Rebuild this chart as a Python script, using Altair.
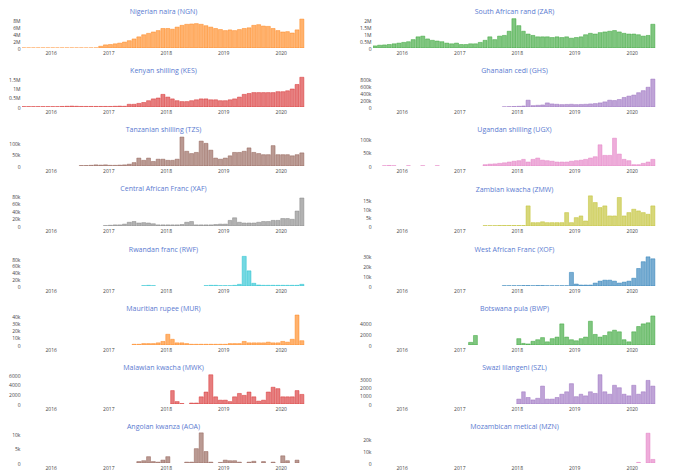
import altair as alt
import pandas as pd

# Monthly periods, Jul 2015 .. May 2020 (59 months)
months = pd.date_range("2015-07-01", "2020-05-01", freq="MS")
month_ends = months + pd.offsets.MonthBegin(1)

NGN = [0.02, 0.02, 0.02, 0.02, 0.02, 0.02,
       0.02, 0.02, 0.02, 0.02, 0.02, 0.02, 0.02, 0.02, 0.02, 0.03, 0.5, 0.9,
       1.0, 1.2, 1.4, 1.7, 2.1, 2.6, 3.2, 3.8, 4.2, 4.6, 5.0, 5.6,
       5.6, 5.4, 6.0, 6.5, 6.8, 6.9, 7.0, 6.8, 6.4, 6.0, 5.6, 5.3,
       5.0, 5.2, 5.0, 5.3, 5.6, 5.8, 6.5, 6.7, 6.3, 6.2, 5.6, 5.0,
       4.6, 4.7, 4.3, 5.2, 8.3]
ZAR = [0.15, 0.2, 0.22, 0.25, 0.3, 0.35,
       0.4, 0.45, 0.6, 0.8, 0.85, 0.65, 0.55, 0.5, 0.45, 0.35, 0.3, 0.35,
       0.25, 0.25, 0.3, 0.3, 0.4, 0.55, 0.8, 0.6, 0.85, 0.9, 1.2, 2.1,
       1.6, 1.2, 1.0, 0.9, 0.8, 0.8, 0.8, 0.75, 0.8, 0.75, 0.8, 0.7,
       0.75, 0.8, 0.95, 1.05, 1.0, 1.1, 1.15, 1.2, 1.25, 1.15, 1.05, 1.0,
       1.0, 0.95, 0.85, 0.9, 1.7]
KES = [0.02, 0.02, 0.02, 0.02, 0.02, 0.02,
       0.02, 0.02, 0.03, 0.04, 0.05, 0.04, 0.03, 0.03, 0.03, 0.03, 0.03, 0.03,
       0.03, 0.04, 0.05, 0.04, 0.15, 0.15, 0.2, 0.25, 0.35, 0.45, 0.5, 0.7,
       0.55, 0.45, 0.35, 0.3, 0.3, 0.35, 0.4, 0.45, 0.45, 0.4, 0.4, 0.35,
       0.35, 0.4, 0.45, 0.55, 0.7, 0.75, 0.8, 0.8, 0.8, 0.8, 0.8, 0.85,
       0.85, 0.9, 1.0, 1.25, 1.65]
GHS = [0, 0, 0, 0, 0, 0,
       0, 0, 0, 0, 0, 0, 0, 0, 0, 0, 0, 0,
       0, 0, 0, 0, 0, 0, 0, 0, 0, 5, 10, 15,
       20, 30, 200, 40, 50, 60, 120, 90, 80, 70, 75, 80,
       70, 75, 80, 90, 100, 120, 150, 200, 190, 220, 280, 320,
       350, 420, 480, 580, 820]
TZS = [0, 0, 0, 0, 0, 0,
       0, 0, 0, 0, 0, 0, 2, 2, 3, 5, 4, 5,
       3, 3, 4, 5, 8, 15, 35, 25, 35, 20, 30, 30,
       25, 25, 30, 128, 65, 55, 60, 110, 100, 70, 35, 30,
       35, 45, 60, 60, 65, 80, 60, 55, 50, 50, 90, 50,
       50, 50, 45, 50, 58]
UGX = [0, 0, 1, 2, 1, 0,
       0, 1, 0, 0, 1, 0, 0, 1, 0, 0, 0, 0,
       0, 0, 0, 0, 0, 5, 7, 8, 10, 12, 15, 18,
       20, 25, 15, 25, 30, 22, 20, 18, 15, 15, 15, 18,
       20, 22, 25, 30, 35, 80, 40, 40, 105, 45, 25, 20,
       5, 5, 10, 15, 25]
XAF = [0, 0, 0, 0, 0, 0,
       0, 0, 0, 0, 0, 0, 0, 0, 0, 0, 0, 1,
       2, 3, 3, 5, 10, 12, 8, 9, 8, 6, 3, 3,
       3, 3, 3, 4, 10, 12, 3, 3, 3, 3, 4, 5,
       5, 15, 22, 10, 8, 8, 8, 10, 12, 12, 15, 15,
       20, 20, 18, 40, 75]
ZMW = [0, 0, 0, 0, 0, 0,
       0, 0, 0, 0, 0, 0, 0, 0, 0, 0, 0, 0,
       0, 0, 0, 0, 0, 0.2, 0.2, 0.2, 0.3, 0.3, 0.3, 0.3,
       0.3, 0.3, 12, 2, 2, 2.5, 2, 2, 2, 2, 8, 2,
       5, 6, 3, 18, 14, 11, 12, 6, 6, 17, 6, 8,
       10, 9, 8, 7, 12]
RWF = [0, 0, 0, 0, 0, 0,
       0, 0, 0, 0, 0, 0, 0, 0, 0, 0, 0, 0,
       0, 0, 0, 0, 0, 0, 0, 1, 2, 1, 0, 0,
       0, 0, 0, 0, 0, 0, 0, 0, 1, 2, 2, 1,
       1, 1, 2, 5, 88, 45, 8, 3, 2, 2, 2, 2,
       2, 2, 2, 2, 5]
XOF = [0, 0, 0, 0, 0, 0,
       0, 0, 0, 0, 0, 0, 0, 0, 0, 0, 0, 0,
       0, 0, 0, 0, 0, 0, 0, 0, 0, 0.3, 0.3, 0.3,
       0.3, 0.5, 0.5, 0.3, 0.5, 0.5, 0.3, 0.3, 0.3, 0.3, 0.3, 14,
       2, 1, 1, 1, 3, 5, 6, 6, 5, 3, 4, 5,
       8, 18, 25, 30, 28]
MUR = [0, 0, 0, 0, 0, 0,
       0, 0, 0, 0, 0, 0, 0, 0, 0, 0, 0, 0,
       0, 0, 0, 0, 0, 1, 1, 2, 2, 2, 3, 5,
       15, 8, 3, 3, 2, 1, 1, 1, 1, 1, 1, 1,
       1, 2, 2, 2, 5, 3, 3, 3, 3, 4, 3, 3,
       5, 4, 8, 42, 6]
BWP = [0, 0, 0, 0, 0, 0,
       0, 0, 0, 0, 0, 0, 0, 0, 0, 0, 0, 0,
       0, 0, 500, 1800, 0, 0, 0, 0, 0, 0, 0, 0,
       1200, 300, 200, 700, 1000, 1400, 600, 1200, 1500, 4000, 1500, 1000,
       800, 1200, 1500, 4500, 2000, 1500, 1800, 2500, 2800, 2500, 1000, 600,
       2500, 3500, 4000, 4200, 5500]
MWK = [0, 0, 0, 0, 0, 0,
       0, 0, 0, 0, 0, 0, 0, 0, 0, 0, 0, 0,
       0, 0, 0, 0, 0, 0, 0, 0, 0, 0, 0, 0,
       0, 2800, 500, 100, 0, 200, 200, 1500, 2500, 6100, 1500, 800,
       800, 500, 1500, 2200, 1800, 2500, 1500, 600, 800, 2500, 3500, 3200,
       1500, 1500, 1500, 2800, 2000]
SZL = [0, 0, 0, 0, 0, 0,
       0, 0, 0, 0, 0, 0, 0, 0, 0, 0, 0, 0,
       0, 0, 0, 0, 0, 0, 0, 0, 0, 0, 0, 0,
       600, 1500, 800, 500, 700, 2200, 600, 600, 800, 1200, 1500, 2500,
       900, 1200, 1000, 1500, 1300, 3600, 1500, 1200, 2300, 2000, 1200, 1000,
       2300, 1200, 1500, 2900, 2200]
AOA = [0, 0, 0, 0, 0, 0,
       0, 0, 0, 0, 0, 0, 0, 0, 0, 0, 0, 0,
       0, 0, 0, 0, 0, 0, 500, 800, 2200, 500, 300, 1000,
       2200, 0, 0, 0, 300, 300, 5000, 10500, 4000, 300, 0, 200,
       1000, 800, 800, 300, 0, 300, 600, 0, 500, 0, 300, 0,
       2500, 800, 0, 1000, 0]
MZN = [0, 0, 0, 0, 0, 0,
       0, 0, 0, 0, 0, 0, 0, 0, 0, 0, 0, 0,
       0, 0, 0, 0, 0, 0, 0, 0, 0, 0, 0, 0,
       0, 0, 0, 0, 0, 0, 0, 0, 0, 0, 0, 0,
       0, 0, 0, 0, 0, 0, 0, 0, 0, 0, 0, 0,
       0, 500, 0, 25000, 3000]

# (title, color, values, multiplier, tick values, label unit, y max)
SERIES = [
    ("Nigerian naira (NGN)", "#ff7f0e", NGN, 1e6, [0, 2e6, 4e6, 6e6, 8e6], "M", 8.9e6),
    ("South African rand (ZAR)", "#2ca02c", ZAR, 1e6, [0, 0.5e6, 1e6, 1.5e6, 2e6], "M", 2.22e6),
    ("Kenyan shilling (KES)", "#d62728", KES, 1e6, [0, 0.5e6, 1e6, 1.5e6], "M", 1.72e6),
    ("Ghanaian cedi (GHS)", "#9467bd", GHS, 1e3, [0, 2e5, 4e5, 6e5, 8e5], "k", 9.1e5),
    ("Tanzanian shilling (TZS)", "#8c564b", TZS, 1e3, [0, 5e4, 1e5], "k", 1.37e5),
    ("Ugandan shilling (UGX)", "#e377c2", UGX, 1e3, [0, 5e4, 1e5], "k", 1.17e5),
    ("Central African Franc (XAF)", "#7f7f7f", XAF, 1e3, [0, 2e4, 4e4, 6e4, 8e4], "k", 8.3e4),
    ("Zambian kwacha (ZMW)", "#bcbd22", ZMW, 1e3, [0, 5e3, 1e4, 1.5e4], "k", 1.85e4),
    ("Rwandan franc (RWF)", "#17becf", RWF, 1e3, [0, 2e4, 4e4, 6e4, 8e4], "k", 9.2e4),
    ("West African Franc (XOF)", "#1f77b4", XOF, 1e3, [0, 1e4, 2e4, 3e4], "k", 3.19e4),
    ("Mauritian rupee (MUR)", "#ff7f0e", MUR, 1e3, [0, 1e4, 2e4, 3e4, 4e4], "k", 4.34e4),
    ("Botswana pula (BWP)", "#2ca02c", BWP, 1, [0, 2000, 4000], "", 5870),
    ("Malawian kwacha (MWK)", "#d62728", MWK, 1, [0, 2000, 4000, 6000], "", 6470),
    ("Swazi lilangeni (SZL)", "#9467bd", SZL, 1, [0, 1000, 2000, 3000], "", 3810),
    ("Angolan kwanza (AOA)", "#8c564b", AOA, 1, [0, 5e3, 1e4], "k", 1.08e4),
    ("Mozambican metical (MZN)", "#e377c2", MZN, 1, [0, 1e4, 2e4], "k", 2.6e4),
]

LABEL_EXPR = {
    "M": "datum.value == 0 ? '0' : format(datum.value / 1e6, '~g') + 'M'",
    "k": "datum.value == 0 ? '0' : format(datum.value / 1e3, '~g') + 'k'",
    "": "format(datum.value, 'd')",
}

x_domain = [alt.DateTime(year=2015, month=7, date=3), alt.DateTime(year=2020, month=6, date=3)]
x_ticks = [alt.DateTime(year=y, month=1, date=1) for y in range(2016, 2021)]

panels = []
for title, color, vals, mult, ticks, unit, ymax in SERIES:
    df = pd.DataFrame({"start": months, "end": month_ends, "v": [v * mult for v in vals]})
    c = (
        alt.Chart(df, title=alt.TitleParams(title))
        .transform_filter("datum.v > 0")
        .mark_bar(color=color, fillOpacity=0.6, stroke=color, strokeWidth=0.5,
                  strokeOpacity=0.9, x2Offset=-0.8, clip=True)
        .encode(
            x=alt.X("start:T", title=None,
                    scale=alt.Scale(domain=x_domain),
                    axis=alt.Axis(values=x_ticks, format="%Y")),
            x2="end:T",
            y=alt.Y("v:Q", title=None,
                    scale=alt.Scale(domain=[0, ymax], nice=False, zero=True),
                    axis=alt.Axis(values=ticks, labelExpr=LABEL_EXPR[unit])),
            y2=alt.datum(0),
        )
        .properties(width=283, height=31)
    )
    panels.append(c)

chart = (
    alt.concat(*panels, columns=2, spacing={"row": 11, "column": 54})
    .properties(padding=0, background="white")
    .configure(font="Open Sans")
    .configure_view(stroke=None)
    .configure_axis(grid=False, domain=False, ticks=False, labelFontSize=5,
                    labelColor="#444444", labelPadding=2)
    .configure_axisY(minExtent=12, maxExtent=12)
    .configure_axisX(minExtent=8, maxExtent=8)
    .configure_title(fontSize=7, color="#5a7ad0", fontWeight="normal", offset=2,
                     anchor="middle")
)

chart.save("out.html", embed_options={"renderer": "svg", "actions": False})
